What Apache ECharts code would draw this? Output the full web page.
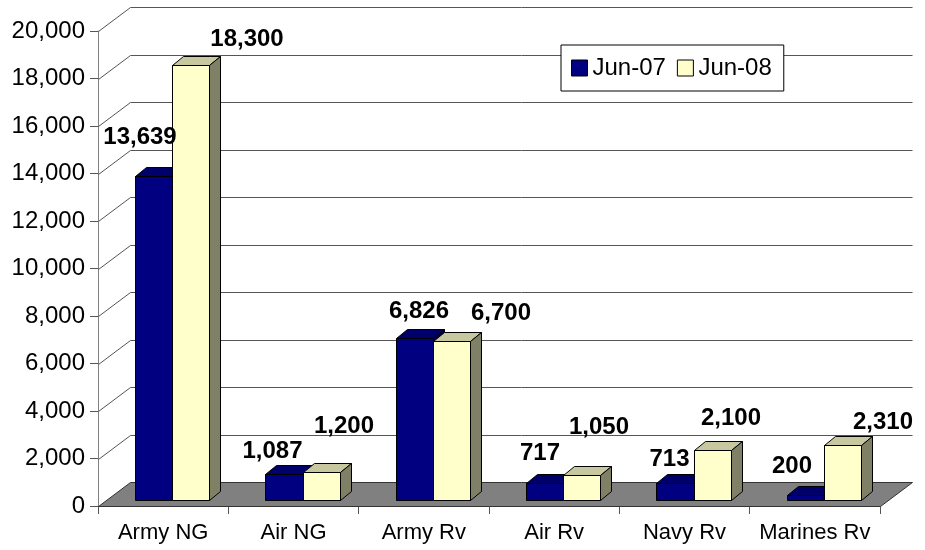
<!DOCTYPE html>
<html><head><meta charset="utf-8">
<script src="https://cdn.jsdelivr.net/npm/echarts@6/dist/echarts.min.js"></script>
<style>html,body{margin:0;padding:0;background:#fff}#c{width:925px;height:550px}</style>
</head><body><div id="c"></div>
<script>
const categories = ['Army NG', 'Air NG', 'Army Rv', 'Air Rv', 'Navy Rv', 'Marines Rv'];
const seriesNames = ['Jun-07', 'Jun-08'];
const jun07 = [13639, 1087, 6826, 717, 713, 200];
const jun08 = [18300, 1200, 6700, 1050, 2100, 2310];
const yTicks = [0, 2000, 4000, 6000, 8000, 10000, 12000, 14000, 16000, 18000, 20000];

// label nudges in pixels (styling only): [dx, dy] from bar front-top centre
const nudge07 = [[-14, -32], [-12, -16], [4, -20], [-5, -23], [-6, -17], [-14, -22]];
const nudge08 = [[56, -19], [22, -39], [49, -21], [17, -41], [18, -25], [40, -16]];

const FONT = "'Liberation Sans', Arial, sans-serif";
const WALL_DX = 32, WALL_DY = -24;
const FRONT_DX = 9, FRONT_DY = -6;
const BAR_DX = 11, BAR_DY = -9;
const BAR_RATIO = 0.284;
const palette = [
  {front: '#000080', top: '#00006a', side: '#000050'},
  {front: '#ffffcc', top: '#c8c8a0', side: '#808066'}
];
const px = v => Math.round(v) + 0.5;
const fmt = v => Number(v).toLocaleString('en-US');

function barRender(si, nudges) {
  return function (params, api) {
    const idx = api.value(0), v = api.value(1);
    const p = api.coord([idx, v]);
    const p0 = api.coord([idx, 0]);
    const bw = api.size([1, 0])[0] * BAR_RATIO;
    const xl = px(p[0] + FRONT_DX + (si === 0 ? -bw : 0));
    const xr = px(p[0] + FRONT_DX + (si === 0 ? 0 : bw));
    const yt = px(p[1] + FRONT_DY), yb = px(p0[1] + FRONT_DY);
    const c = palette[si];
    const st = f => ({fill: f, stroke: '#000', lineWidth: 1});
    const n = nudges[params.dataIndex];
    return {type: 'group', children: [
      {type: 'polygon', shape: {points: [[xl, yb], [xr, yb], [xr, yt], [xl, yt]]}, style: st(c.front)},
      {type: 'polygon', shape: {points: [[xl, yt], [xr, yt], [xr + BAR_DX, yt + BAR_DY], [xl + BAR_DX, yt + BAR_DY]]}, style: st(c.top)},
      {type: 'polygon', shape: {points: [[xr, yb], [xr + BAR_DX, yb + BAR_DY], [xr + BAR_DX, yt + BAR_DY], [xr, yt]]}, style: st(c.side)},
      {type: 'text', z2: 100, x: (xl + xr) / 2 + n[0], y: yt + n[1] + 5,
        style: {text: fmt(v), font: 'bold 24px ' + FONT, fill: '#000', align: 'center', verticalAlign: 'bottom'}}
    ]};
  };
}

function gridRender(params, api) {
  const v = api.value(1);
  const cs = params.coordSys;
  const y = px(api.coord([0, v])[1]);
  const L = Math.round(cs.x) + 0.5, R = Math.round(cs.x + cs.width) + 0.5;
  return {type: 'group', children: [
    {type: 'polyline', shape: {points: [[L, y], [L + WALL_DX, y + WALL_DY], [R + WALL_DX, y + WALL_DY]]},
      style: {stroke: '#555', lineWidth: 1, fill: null}}
  ]};
}
function floorRender(params, api) {
  const cs = params.coordSys;
  const y = px(api.coord([0, 0])[1]);
  const L = Math.round(cs.x) + 0.5, R = Math.round(cs.x + cs.width) + 0.5;
  return {type: 'polygon', shape: {points: [[L, y], [L + WALL_DX, y + WALL_DY], [R + WALL_DX, y + WALL_DY], [R, y]]},
    style: {fill: '#808080', stroke: '#333', lineWidth: 1}};
}

const chart = echarts.init(document.getElementById('c'), null, {renderer: 'canvas'});
chart.setOption({
  animation: false,
  backgroundColor: '#fff',
  textStyle: {fontFamily: FONT},
  grid: {left: 98, right: 45, top: 31, bottom: 44, containLabel: false},
  legend: {
    left: 561, top: 45, orient: 'horizontal',
    backgroundColor: '#fff', borderColor: '#000', borderWidth: 1,
    padding: [11, 12, 11, 10], itemGap: 11, itemWidth: 16, itemHeight: 16,
    textStyle: {fontSize: 24, color: '#000', fontFamily: FONT},
    selectedMode: false,
    data: [
      {name: seriesNames[0], icon: 'rect', itemStyle: {color: palette[0].front, borderColor: '#000', borderWidth: 1}},
      {name: seriesNames[1], icon: 'rect', itemStyle: {color: palette[1].front, borderColor: '#000', borderWidth: 1}}
    ]
  },
  xAxis: {
    type: 'category', data: categories,
    axisLine: {show: true, lineStyle: {color: '#808080'}},
    axisTick: {show: true, length: 8, lineStyle: {color: '#555'}},
    axisLabel: {fontSize: 22, color: '#000', margin: 16, fontFamily: FONT, interval: 0},
    splitLine: {show: false}
  },
  yAxis: {
    type: 'value', min: 0, max: 20000, interval: 2000,
    axisLine: {show: true, lineStyle: {color: '#808080'}},
    axisTick: {show: true, length: 8, lineStyle: {color: '#555'}},
    axisLabel: {fontSize: 24, color: '#000', margin: 13, fontFamily: FONT, formatter: v => fmt(v)},
    splitLine: {show: false}
  },
  series: [
    {type: 'custom', name: 'floor', z: 1, silent: true, renderItem: floorRender, data: [[0, 0]]},
    {type: 'custom', name: 'walls', z: 1, silent: true, renderItem: gridRender,
      data: yTicks.slice(1).map(v => [0, v])},
    {type: 'custom', name: seriesNames[0], z: 2, renderItem: barRender(0, nudge07),
      itemStyle: {color: palette[0].front},
      data: jun07.map((v, i) => [i, v])},
    {type: 'custom', name: seriesNames[1], z: 2, renderItem: barRender(1, nudge08),
      itemStyle: {color: palette[1].front},
      data: jun08.map((v, i) => [i, v])}
  ]
});
</script>
</body></html>
